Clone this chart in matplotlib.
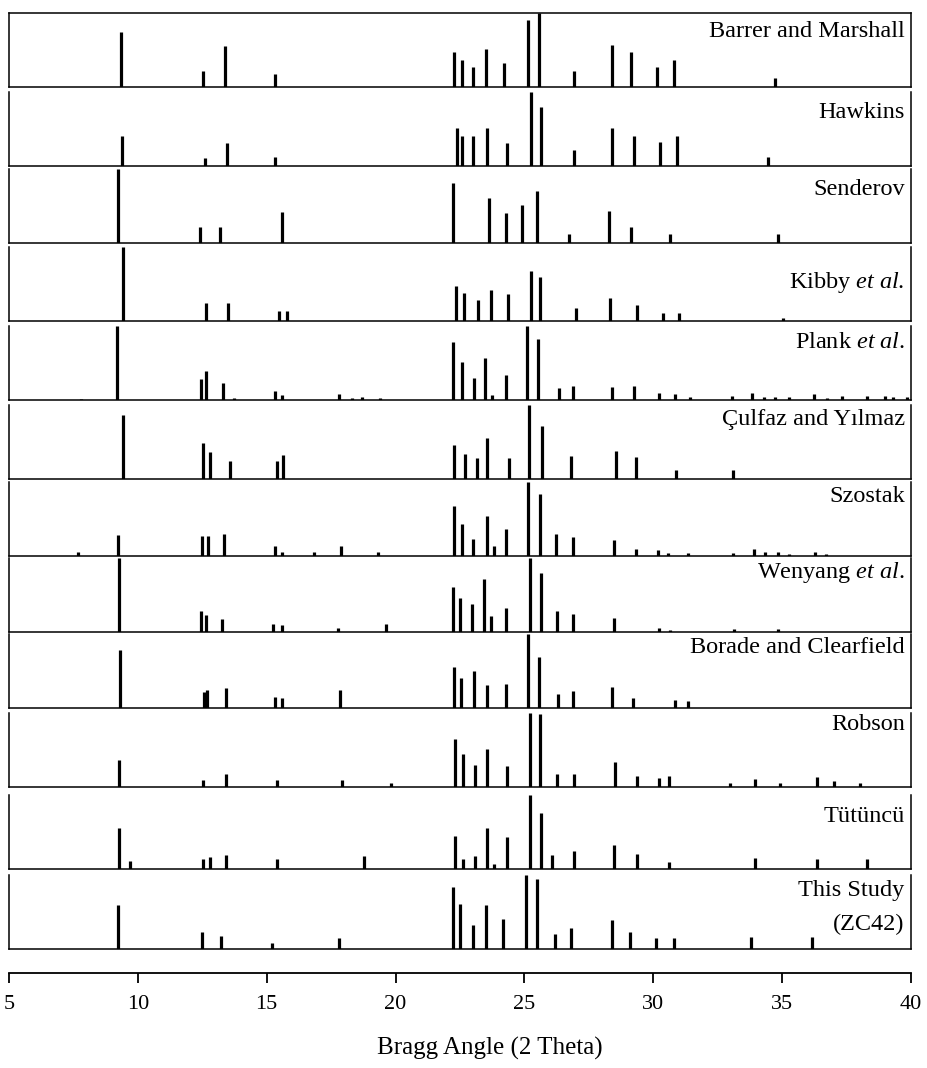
import numpy as np
import matplotlib.pyplot as plt

plt.rcParams['font.family'] = ['Liberation Serif', 'DejaVu Serif']
plt.rcParams['mathtext.fontset'] = 'custom'
plt.rcParams['mathtext.rm'] = 'Liberation Serif'
plt.rcParams['mathtext.it'] = 'Liberation Serif:italic'

# Peak positions (2 theta) and relative intensities (%) for each reference pattern
barrer_pos = [9.35, 12.52, 13.39, 15.33, 22.26, 22.57, 22.99, 23.51, 24.22, 25.15, 25.57,
              26.91, 28.40, 29.14, 30.16, 30.81, 34.74]
barrer_int = [75, 22, 56, 18, 47, 37, 27, 51, 32, 91, 100, 22, 57, 47, 27, 37, 12]

hawkins_pos = [9.40, 12.61, 13.46, 15.33, 22.37, 22.58, 23.02, 23.54, 24.31, 25.27, 25.64,
               26.92, 28.40, 29.25, 30.26, 30.92, 34.47]
hawkins_int = [40, 11, 31, 12, 51, 41, 41, 51, 31, 100, 80, 22, 52, 41, 32, 41, 12]

senderov_pos = [9.24, 12.41, 13.19, 15.58, 22.21, 23.63, 24.29, 24.90, 25.49, 26.73, 28.28,
                29.12, 30.66, 34.85]
senderov_int = [100, 21, 21, 42, 81, 61, 41, 52, 70, 12, 43, 22, 12, 12]

kibby_pos = [9.44, 12.64, 13.51, 15.49, 15.78, 22.36, 22.66, 23.21, 23.69, 24.38, 25.25,
             25.62, 26.99, 28.32, 29.37, 30.37, 31.01, 35.02]
kibby_int = [100, 25, 25, 14, 14, 47, 38, 29, 42, 36, 67, 60, 17, 31, 22, 11, 11, 4]

plank_pos = [7.79, 9.20, 12.45, 12.64, 13.32, 13.74, 15.32, 15.58, 17.82, 18.32, 18.69, 19.40,
             22.23, 22.57, 23.06, 23.47, 23.75, 24.27, 25.09, 25.54, 26.34, 26.87, 28.40,
             29.24, 30.22, 30.84, 31.43, 33.04, 33.83, 34.31, 34.72, 35.28, 36.25, 36.73,
             37.31, 38.28, 39.00, 39.32, 39.84]
plank_int = [2, 100, 28, 39, 23, 3, 12, 7, 8, 3, 4, 3, 78, 52, 30, 57, 7, 34, 100, 83,
             16, 19, 17, 19, 10, 8, 4, 5, 9, 4, 4, 4, 8, 3, 5, 6, 5, 4, 4]

culfaz_pos = [9.41, 12.52, 12.80, 13.58, 15.41, 15.64, 22.28, 22.70, 23.17, 23.54, 24.40,
              25.18, 25.70, 26.80, 28.56, 29.32, 30.88, 33.11]
culfaz_int = [86, 48, 36, 25, 25, 33, 46, 34, 28, 56, 28, 100, 72, 31, 38, 30, 12, 12]

szostak_pos = [7.69, 9.24, 12.47, 12.73, 13.36, 15.33, 15.58, 16.85, 17.87, 19.33, 22.27,
               22.57, 23.02, 23.54, 23.80, 24.27, 25.15, 25.62, 26.23, 26.87, 28.46, 29.32,
               30.20, 30.56, 31.33, 33.08, 33.91, 34.34, 34.82, 35.28, 36.28, 36.69]
szostak_int = [5, 29, 27, 27, 30, 14, 5, 5, 13, 5, 67, 43, 23, 54, 14, 36, 100, 84, 30, 26,
               22, 10, 8, 4, 4, 4, 10, 5, 5, 3, 5, 3]

wenyang_pos = [9.28, 12.45, 12.64, 13.28, 15.26, 15.58, 17.78, 19.62, 22.21, 22.49, 22.95,
               23.43, 23.69, 24.29, 25.22, 25.63, 26.25, 26.90, 28.48, 30.24, 30.65, 33.14,
               34.85]
wenyang_int = [100, 29, 23, 17, 11, 9, 6, 11, 61, 46, 38, 71, 22, 33, 100, 80, 28, 25, 19,
               6, 3, 4, 4]

borade_pos = [9.31, 12.57, 12.70, 13.41, 15.32, 15.61, 17.84, 22.28, 22.55, 23.06, 23.54,
              24.29, 25.15, 25.55, 26.31, 26.90, 28.39, 29.23, 30.86, 31.33]
borade_int = [78, 22, 24, 27, 15, 14, 24, 56, 41, 50, 31, 33, 100, 69, 19, 23, 28, 14, 11, 9]

robson_pos = [9.28, 12.54, 13.41, 15.39, 17.91, 19.81, 22.32, 22.61, 23.08, 23.56, 24.31,
              25.20, 25.62, 26.28, 26.93, 28.50, 29.38, 30.24, 30.62, 32.98, 33.95, 34.92,
              36.34, 37.01, 38.02]
robson_int = [36, 9, 18, 10, 10, 5, 65, 44, 30, 52, 29, 100, 98, 17, 18, 34, 15, 12, 15, 6,
              11, 5, 14, 8, 6]

tutuncu_pos = [9.28, 9.70, 12.54, 12.80, 13.41, 15.39, 18.79, 22.32, 22.63, 23.08, 23.56,
               23.80, 24.31, 25.20, 25.64, 26.07, 26.93, 28.49, 29.38, 30.62, 33.96, 36.34,
               38.31]
tutuncu_int = [55, 11, 13, 16, 19, 14, 17, 44, 14, 17, 55, 7, 43, 100, 76, 19, 25, 33, 20,
               10, 15, 14, 13]

study_pos = [9.22, 12.50, 13.21, 15.21, 17.81, 22.21, 22.51, 22.99, 23.50, 24.18, 25.08,
             25.50, 26.20, 26.80, 28.40, 29.10, 30.09, 30.79, 33.79, 36.17]
study_int = [59, 23, 17, 8, 15, 84, 61, 33, 59, 41, 100, 94, 20, 28, 39, 23, 15, 15, 16, 16]

labels = ["Barrer and Marshall", "Hawkins", "Senderov", r"Kibby $\mathit{et\ al.}$",
          r"Plank $\mathit{et\ al.}$", "Çulfaz and Yılmaz", "Szostak",
          r"Wenyang $\mathit{et\ al.}$", "Borade and Clearfield", "Robson", "Tütüncü",
          "This Study\n(ZC42)"]
positions = [barrer_pos, hawkins_pos, senderov_pos, kibby_pos, plank_pos, culfaz_pos,
             szostak_pos, wenyang_pos, borade_pos, robson_pos, tutuncu_pos, study_pos]
intensities = [barrer_int, hawkins_int, senderov_int, kibby_int, plank_int, culfaz_int,
               szostak_int, wenyang_int, borade_int, robson_int, tutuncu_int, study_int]

# layout (pixels of the 927x1068 figure)
W, H = 927, 1068
left_px, right_px = 9, 911
panel_h = 74
baselines = [87, 166, 243, 321, 400, 479, 556, 632, 708, 787, 869, 949]
# baseline of the last text line, as a fraction of the panel height
label_y = [0.68, 0.645, 0.65, 0.45, 0.70, 0.73, 0.73, 0.73, 0.74, 0.77, 0.64, 0.26]

fig = plt.figure(figsize=(W / 100, H / 100), dpi=100)

for i in range(len(labels)):
    ax = fig.add_axes([left_px / W, (H - baselines[i]) / H,
                       (right_px - left_px) / W, panel_h / H])
    ax.vlines(positions[i], 0, intensities[i], color='black', linewidth=2.3)
    ax.set_xlim(5, 40)
    ax.set_ylim(0, 100)
    ax.set_xticks([])
    ax.set_yticks([])
    for side in ['left', 'right', 'bottom', 'top']:
        ax.spines[side].set_linewidth(1.1)
    if i > 0:
        ax.spines['top'].set_visible(False)
    ax.text(0.993, label_y[i], labels[i], transform=ax.transAxes, ha='right',
            va='baseline', fontsize=17.5, linespacing=1.75, multialignment='right')

# common 2-theta axis
axx = fig.add_axes([left_px / W, (H - 973) / H, (right_px - left_px) / W, 0.001])
axx.set_xlim(5, 40)
axx.set_xticks(np.arange(5, 41, 5))
axx.set_yticks([])
for side in ['left', 'right', 'top']:
    axx.spines[side].set_visible(False)
axx.spines['bottom'].set_linewidth(1.3)
axx.tick_params(axis='x', direction='out', length=7, width=1.3, labelsize=16, pad=9)
axx.patch.set_visible(False)

fig.text(490 / W, 1 - 1048 / H, "Bragg Angle (2 Theta)", ha='center', va='center',
         fontsize=18)

plt.savefig("out.png", dpi=100)
